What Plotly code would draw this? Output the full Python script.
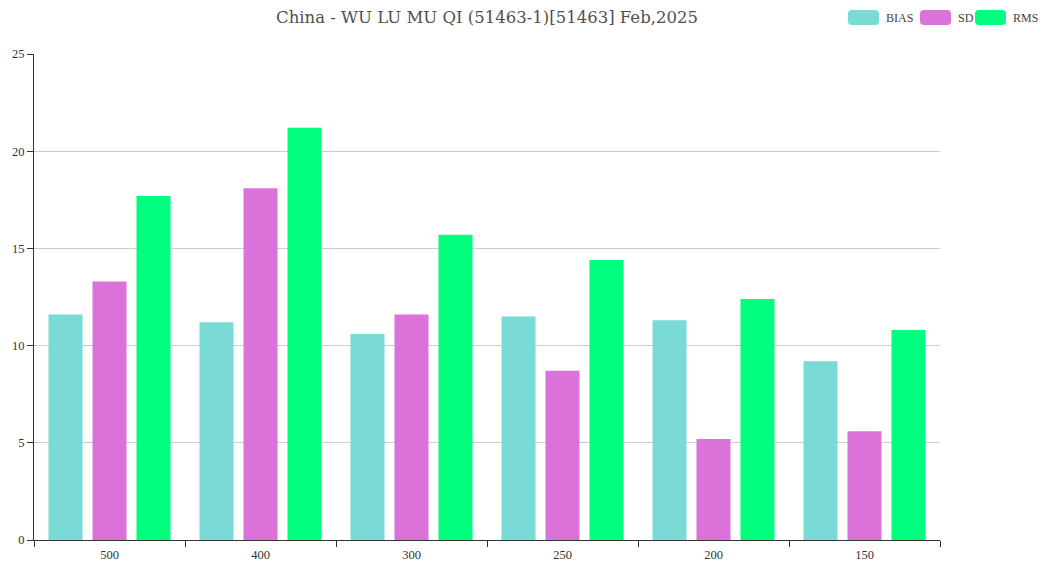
import plotly.graph_objects as go

categories = ["500", "400", "300", "250", "200", "150"]
bias = [11.6, 11.2, 10.6, 11.5, 11.3, 9.2]
sd = [13.3, 18.1, 11.6, 8.7, 5.2, 5.6]
rms = [17.7, 21.2, 15.7, 14.4, 12.4, 10.8]
series_names = ["BIAS", "SD", "RMS"]
colors = ["#7adad5", "#da72da", "#00fe7f"]

# the page body has an 8px margin; lay out in page pixels
OFF = 8
W, H = 1048 - 2 * OFF, 563 - OFF
PL, PR, PT, PB = 34, 940, 54, 540  # plot area in page pixels
L, T = PL - OFF, PT - OFF
R = W - (PR - OFF)
B = H - (PB - OFF)
FONT = "Liberation Serif"

fig = go.Figure()
for name, vals, c in zip(series_names, [bias, sd, rms], colors):
    fig.add_trace(go.Bar(x=categories, y=vals, name=name, marker=dict(color=c, line=dict(width=0)),
                         showlegend=False))

def px2paper_x(px):
    return (px - PL) / (PR - PL)

def px2paper_y(py):
    return (PB - py) / (PB - PT)

# custom legend (rounded rectangles)
shapes = []
annotations = []
leg_items = [(848, 884), (920, 956), (975, 1011)]
for (sx, tx), name, c in zip(leg_items, series_names, colors):
    x0, x1 = px2paper_x(sx), px2paper_x(sx + 31)
    y0, y1 = px2paper_y(25), px2paper_y(10)
    rx = 4 / (PR - PL)
    ry = 4 / (PB - PT)
    path = (f"M {x0+rx},{y0} L {x1-rx},{y0} Q {x1},{y0} {x1},{y0+ry} "
            f"L {x1},{y1-ry} Q {x1},{y1} {x1-rx},{y1} L {x0+rx},{y1} "
            f"Q {x0},{y1} {x0},{y1-ry} L {x0},{y0+ry} Q {x0},{y0} {x0+rx},{y0} Z")
    shapes.append(dict(type="path", path=path, xref="paper", yref="paper",
                       fillcolor=c, line=dict(width=0), layer="above"))
    annotations.append(dict(text=name, x=px2paper_x(tx), y=px2paper_y(17.5), xref="paper", yref="paper",
                            xanchor="left", yanchor="middle", showarrow=False,
                            font=dict(family=FONT, size=12, color="#444")))

fig.update_layout(
    width=W, height=H,
    margin=dict(l=L, r=R, t=T, b=B, autoexpand=False),
    paper_bgcolor="white", plot_bgcolor="white",
    barmode="group", bargap=0.126, bargroupgap=0.227,
    title=dict(text="China - WU LU MU QI (51463-1)[51463] Feb,2025",
               x=(487 - OFF) / W, xanchor="center", xref="container",
               y=1 - (17 - OFF) / H, yanchor="middle", automargin=False,
               font=dict(family="DejaVu Serif", size=16.5, color="#505050")),
    font=dict(family=FONT, size=12, color="#333"),
    shapes=shapes, annotations=annotations,
    xaxis=dict(type="category", tickson="boundaries", ticks="outside", ticklen=6,
               tickcolor="#333", showline=True, linecolor="#333", linewidth=1,
               showgrid=False, tickfont=dict(family=FONT, size=12.5, color="#333"),
               ticklabelstandoff=3, automargin=False),
    yaxis=dict(range=[0, 25], dtick=5, ticks="outside", ticklen=6, tickcolor="#333",
               showline=True, linecolor="#333", linewidth=1, automargin=False,
               showgrid=True, gridcolor="#cccccc", gridwidth=1, zeroline=False,
               tickfont=dict(family=FONT, size=12.5, color="#333")),
)

fig.write_html("out.html")
